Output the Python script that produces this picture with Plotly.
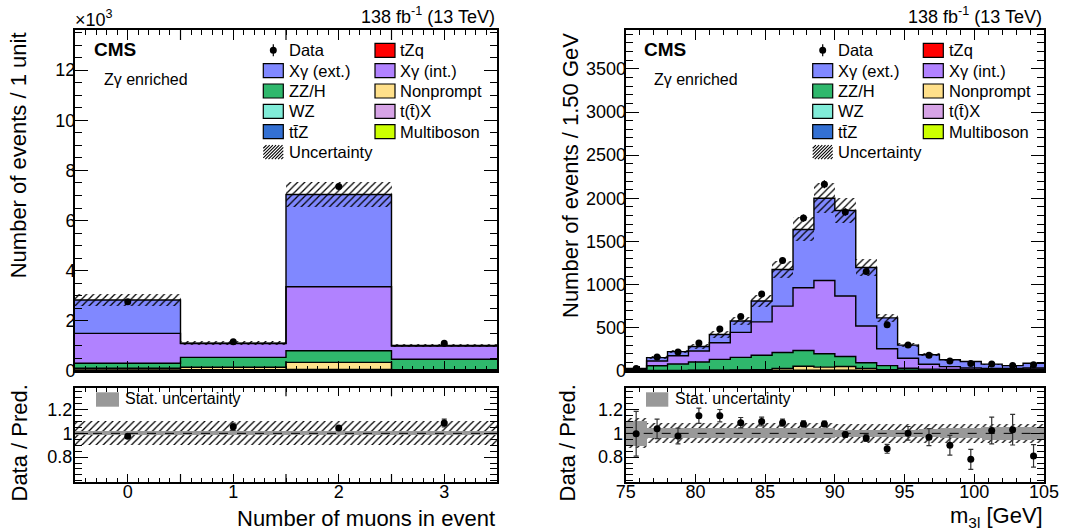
import numpy as np
import plotly.graph_objects as go

W, H = 1084, 530
FONT = "Liberation Sans, Arial, Helvetica, sans-serif"

# ---------------- Left: number of muons in event ----------------
mu_centers = [0, 1, 2, 3]
mu_tick_labels = ["0", "1", "2", "3"]
mu_xg_ext = [1330, 15, 3680, 20]
mu_xg_int = [1190, 550, 2550, 530]
mu_zz_h = [200, 395, 465, 420]
mu_nonprompt = [70, 100, 285, 20]
mu_wz = [25, 30, 35, 18]
mu_ttx = [8, 10, 12, 6]
mu_ttz = [4, 5, 6, 3]
mu_tzq = [1, 1, 2, 1]
mu_multiboson = [2, 3, 5, 2]
mu_data = [2760, 1170, 7360, 1110]
mu_unc_rel = [0.085, 0.07, 0.072, 0.07]
mu_ratio_unc = [0.10, 0.10, 0.10, 0.10]
mu_ratio_stat = [0.02, 0.02, 0.02, 0.02]

# ---------------- Right: m3l ----------------
m3l_edges = np.linspace(75, 105, 21)
m3l_xg_ext = [10, 39, 48, 52, 95, 131, 243, 423, 676, 954, 992, 679, 357, 153, 110, 80, 75, 50, 34, 55]
m3l_xg_int = [6, 55, 96, 127, 193, 290, 387, 537, 726, 848, 700, 425, 196, 116, 56, 32, 20, 15, 11, 15]
m3l_zz_h = [8, 55, 74, 95, 125, 146, 168, 185, 183, 155, 116, 66, 46, 21, 13, 8, 7, 6, 5, 4]
m3l_nonprompt = [2, 3, 3, 4, 5, 6, 8, 22, 46, 36, 44, 24, 11, 6, 6, 7, 5, 6, 9, 13]
m3l_wz = [1, 2, 2, 3, 3, 3, 3, 4, 5, 5, 4, 3, 3, 2, 2, 2, 2, 2, 2, 2]
m3l_ttx = [0.5, 0.5, 1, 1, 1, 1, 1, 2, 2, 2, 2, 1, 1, 1, 0.5, 0.5, 0.5, 0.5, 0.5, 0.5]
m3l_ttz = [0.3, 0.3, 0.5, 0.5, 0.5, 1, 1, 1, 1, 1, 1, 1, 0.5, 0.5, 0.3, 0.3, 0.3, 0.3, 0.3, 0.3]
m3l_tzq = [0.1, 0.1, 0.2, 0.2, 0.2, 0.3, 0.3, 0.4, 0.4, 0.4, 0.4, 0.3, 0.2, 0.2, 0.1, 0.1, 0.1, 0.1, 0.1, 0.1]
m3l_multiboson = [0.2, 0.2, 0.3, 0.3, 0.3, 0.4, 0.4, 0.5, 0.5, 0.5, 0.5, 0.4, 0.3, 0.3, 0.2, 0.2, 0.2, 0.2, 0.2, 0.2]
m3l_data = [28, 161, 220, 325, 486, 631, 893, 1281, 1771, 2162, 1841, 1152, 535, 300, 182, 117, 86, 82, 64, 73]
m3l_unc_rel = [0.13] + [0.085] * 9 + [0.08] * 10
m3l_ratio_unc = [0.127] + [0.085] * 9 + [0.08] * 10
m3l_ratio_stat = [0.105] + [0.042] * 9 + [0.03] * 4 + [0.035, 0.045, 0.045, 0.055, 0.055, 0.055]

COLORS = {
    "tzq": "#ff0000", "ttz": "#3370d3", "ttx": "#d6a3e6", "multiboson": "#ccff00",
    "wz": "#80ecd8", "nonprompt": "#ffe08a", "zz_h": "#2fb86c",
    "xg_int": "#b182ff", "xg_ext": "#8088ff",
}

fig = go.Figure()


def px_x(p):
    return p / W


def px_y(p):
    return 1 - p / H


HATCH = dict(color="rgba(0,0,0,0)", line=dict(width=0),
             pattern=dict(shape="/", fgcolor="black", bgcolor="rgba(0,0,0,0)",
                          size=5, solidity=0.25, fillmode="replace"))


def add_panel(xa, ya, xr, yr, centers, width, comps, data, unc_rel, r_unc, r_stat):
    centers = np.asarray(centers, float)
    edges = np.append(centers - width / 2, centers[-1] + width / 2)
    base = np.zeros(len(centers))
    tops = []
    for key, vals in comps:
        vals = np.asarray(vals, float)
        fig.add_trace(go.Bar(x=centers, y=vals, base=base, width=width, xaxis=xa, yaxis=ya,
                             marker=dict(color=COLORS[key], line=dict(width=0)), showlegend=False))
        base = base + vals
        tops.append(base.copy())
    total = base
    for t in tops:
        fig.add_trace(go.Scatter(x=edges, y=np.append(t, t[-1]), mode="lines", line_shape="hv",
                                 line=dict(color="black", width=1.4), xaxis=xa, yaxis=ya,
                                 showlegend=False, hoverinfo="skip"))
    unc = total * np.asarray(unc_rel)
    fig.add_trace(go.Bar(x=centers, y=2 * unc, base=total - unc, width=width, xaxis=xa, yaxis=ya,
                         marker=HATCH, showlegend=False))
    data = np.asarray(data, float)
    fig.add_trace(go.Scatter(x=centers, y=data, mode="markers", xaxis=xa, yaxis=ya,
                             marker=dict(color="black", size=7),
                             error_y=dict(type="data", array=np.sqrt(data), color="black",
                                          thickness=1.2, width=0),
                             showlegend=False))
    # ratio panel
    r_unc = np.asarray(r_unc)
    r_stat = np.asarray(r_stat)
    fig.add_trace(go.Bar(x=centers, y=2 * r_unc, base=1 - r_unc, width=width, xaxis=xr, yaxis=yr,
                         marker=HATCH, showlegend=False))
    fig.add_trace(go.Bar(x=centers, y=2 * r_stat, base=1 - r_stat, width=width, xaxis=xr, yaxis=yr,
                         marker=dict(color="#999999", line=dict(width=0)), showlegend=False))
    ratio = data / total
    fig.add_trace(go.Scatter(x=centers, y=ratio, mode="markers", xaxis=xr, yaxis=yr,
                             marker=dict(color="black", size=7),
                             error_y=dict(type="data", array=np.sqrt(data) / total, color="#333333",
                                          thickness=1.2, width=2.5),
                             showlegend=False))


def comps_of(prefix):
    g = globals()
    keys = ["tzq", "ttz", "ttx", "multiboson", "wz", "nonprompt", "zz_h", "xg_int", "xg_ext"]
    return [(k, g[prefix + k]) for k in keys]


add_panel("x", "y", "x2", "y2", mu_centers, 1.0, comps_of("mu_"), mu_data, mu_unc_rel,
          mu_ratio_unc, mu_ratio_stat)
m3l_centers = (m3l_edges[:-1] + m3l_edges[1:]) / 2
add_panel("x3", "y3", "x4", "y4", m3l_centers, 1.5, comps_of("m3l_"), m3l_data, m3l_unc_rel,
          m3l_ratio_unc, m3l_ratio_stat)

TICKFONT = dict(family=FONT, size=18, color="black")


def axis(domain, rng, anchor, ticklen, minorlen, showlabels, standoff, **kw):
    d = dict(domain=domain, range=rng, anchor=anchor, showline=True, linecolor="black", linewidth=2,
             mirror="allticks", ticks="inside", ticklen=ticklen, tickwidth=1.2, tickcolor="black",
             showgrid=False, zeroline=False, showticklabels=showlabels, tickfont=TICKFONT,
             automargin=False, fixedrange=True, ticklabelstandoff=standoff,
             minor=dict(ticks="inside", ticklen=minorlen, tickwidth=1, tickcolor="black", showgrid=False))
    d.update(kw)
    return d


dxl = [px_x(75), px_x(497)]
dxr = [px_x(625.7), px_x(1044)]
dyt = [px_y(371), px_y(30)]
dyr = [px_y(482), px_y(388.3)]

fig.update_layout(
    template="none",
    width=W, height=H, margin=dict(l=0, r=0, t=0, b=0, pad=0, autoexpand=False),
    paper_bgcolor="white", plot_bgcolor="white", barmode="overlay", bargap=0,
    showlegend=False, font=dict(family=FONT, color="black"),
    xaxis=axis(dxl, [-0.5, 3.5], "y", 10, 5, False, 0, tickmode="array", tickvals=mu_centers,
               ticktext=mu_tick_labels, minor_dtick=0.1, minor_tick0=0),
    yaxis=axis(dyt, [0, 13600], "x", 13, 7, True, -6, tickmode="array",
               tickvals=[0, 2000, 4000, 6000, 8000, 10000, 12000],
               ticktext=["0", "2", "4", "6", "8", "10", "12"], minor_dtick=500, minor_tick0=0),
    xaxis2=axis(dxl, [-0.5, 3.5], "y2", 8, 4, True, -8, tickmode="array", tickvals=mu_centers,
                ticktext=mu_tick_labels, minor_dtick=0.1, minor_tick0=0),
    yaxis2=axis(dyr, [0.59, 1.38], "x2", 13, 7, True, -3, tickmode="array", tickvals=[0.8, 1.0, 1.2],
                ticktext=["0.8", "1", "1.2"], minor_dtick=0.05, minor_tick0=0),
    xaxis3=axis(dxr, [75, 105], "y3", 10, 5, False, 0, dtick=5, tick0=75, minor_dtick=1),
    yaxis3=axis(dyt, [0, 3950], "x3", 13, 7, True, -6, dtick=500, tick0=0, minor_dtick=100),
    xaxis4=axis(dxr, [75, 105], "y4", 8, 4, True, -8, dtick=5, tick0=75, minor_dtick=1),
    yaxis4=axis(dyr, [0.59, 1.38], "x4", 13, 7, True, -3, tickmode="array", tickvals=[0.8, 1.0, 1.2],
                ticktext=["0.8", "1", "1.2"], minor_dtick=0.05, minor_tick0=0),
)

shapes = []
annots = []

# long ticks at the bin boundaries (half-integers) of the muon-count axis
for xr, yr, ln, h in [("x", "y", 10, 341), ("x2", "y2", 8, 93.7)]:
    f = ln / h
    for xv in [0.5, 1.5, 2.5]:
        for y0, y1 in [(0, f), (1 - f, 1)]:
            shapes.append(dict(type="line", xref=xr, yref=yr + " domain", x0=xv, x1=xv, y0=y0, y1=y1,
                               line=dict(color="black", width=1.2)))


def text(x, y, s, size=16, xanchor="left", yanchor="middle", angle=0, bold=False):
    if bold:
        s = "<b>" + s + "</b>"
    annots.append(dict(x=px_x(x), y=px_y(y), xref="paper", yref="paper", text=s, showarrow=False,
                       xanchor=xanchor, yanchor=yanchor, textangle=angle,
                       font=dict(family=FONT, size=size, color="black")))


def rect(x0, y0, x1, y1, fill, lw=1.2):
    shapes.append(dict(type="rect", xref="paper", yref="paper", x0=px_x(x0), x1=px_x(x1),
                       y0=px_y(y1), y1=px_y(y0), fillcolor=fill,
                       line=dict(color="black" if lw > 0 else fill, width=lw)))


def hatch_swatch(x0, y0, x1, y1, step=3.2):
    segs = []
    h = y1 - y0
    c = -h
    while c < (x1 - x0):
        ax, ay = x0 + c, y1
        bx, by = x0 + c + h, y0
        if ax < x0:
            ay = y1 - (x0 - ax)
            ax = x0
        if bx > x1:
            by = y0 + (bx - x1)
            bx = x1
        if bx > ax:
            segs.append("M%.5f,%.5f L%.5f,%.5f" % (px_x(ax), px_y(ay), px_x(bx), px_y(by)))
        c += step
    shapes.append(dict(type="path", xref="paper", yref="paper", path=" ".join(segs),
                       line=dict(color="black", width=1.1)))


def legend(c1_sw, c1_tx, c2_sw, c2_tx, y0=50.3, dy=20.35):
    rows = [
        (None, "Data", "tzq", "tZq"),
        ("xg_ext", "Xγ (ext.)", "xg_int", "Xγ (int.)"),
        ("zz_h", "ZZ/H", "nonprompt", "Nonprompt"),
        ("wz", "WZ", "ttx", "t(t\u0304)X"),
        ("ttz", "tt\u0304Z", "multiboson", "Multiboson"),
    ]
    for i, (k1, t1, k2, t2) in enumerate(rows):
        yc = y0 + i * dy
        if k1 is None:
            mx = (c1_sw[0] + c1_sw[1]) / 2
            shapes.append(dict(type="line", xref="paper", yref="paper", x0=px_x(mx), x1=px_x(mx),
                               y0=px_y(yc - 6), y1=px_y(yc + 6), line=dict(color="black", width=1.2)))
            shapes.append(dict(type="circle", xref="paper", yref="paper", x0=px_x(mx - 3.5),
                               x1=px_x(mx + 3.5), y0=px_y(yc + 3.5), y1=px_y(yc - 3.5),
                               fillcolor="black", line=dict(color="black", width=0)))
        else:
            rect(c1_sw[0], yc - 7, c1_sw[1], yc + 7, COLORS[k1])
        text(c1_tx, yc, t1, size=16.5)
        rect(c2_sw[0], yc - 7, c2_sw[1], yc + 7, COLORS[k2])
        text(c2_tx, yc, t2, size=16.5)
    yc = y0 + 5 * dy
    hatch_swatch(c1_sw[0], yc - 7, c1_sw[1], yc + 7)
    text(c1_tx, yc, "Uncertainty", size=16.5)


legend((263.3, 283.3), 286.5, (375, 395), 398.3)
legend((812.7, 832.7), 836, (923.3, 943.3), 946.7)

# CMS labels
for xc, xz in [(91.7, 101.7), (641.7, 651.7)]:
    text(xc, 49.5, "CMS", size=19, bold=True)
    text(xz, 80, "Zγ enriched", size=16)

# lumi
text(497, 16, "138 fb<sup>-1</sup> (13 TeV)", size=18, xanchor="right")
text(1044, 16, "138 fb<sup>-1</sup> (13 TeV)", size=18, xanchor="right")
text(73, 19, "×10<sup>3</sup>", size=18)

# axis titles
text(18.3, 30, "Number of events / 1 unit", size=22, xanchor="center", yanchor="top", angle=-90)
text(570, 31.5, "Number of events / 1.50 GeV", size=22, xanchor="center", yanchor="top", angle=-90)
text(19, 383, "Data / Pred.", size=22, xanchor="center", yanchor="top", angle=-90)
text(567, 383, "Data / Pred.", size=22, xanchor="center", yanchor="top", angle=-90)
text(497, 518, "Number of muons in event", size=22, xanchor="right")
text(1045, 517, "m<sub>3l</sub> [GeV]", size=22, xanchor="right")

# stat uncertainty legends
rect(96, 392.3, 119, 406.7, "#999999", lw=0)
text(123.3, 398.5, "Stat. uncertainty", size=16)
rect(646, 392.3, 668.3, 406.7, "#999999", lw=0)
text(673.3, 398.5, "Stat. uncertainty", size=16)

# dashed reference lines at 1
for xr, yr in [("x2", "y2"), ("x4", "y4")]:
    shapes.append(dict(type="line", xref=xr + " domain", yref=yr, x0=0, x1=1, y0=1, y1=1,
                       line=dict(color="black", width=1, dash="dash")))

fig.update_layout(shapes=shapes, annotations=annots)
fig.write_html("out.html", config=dict(displayModeBar=False))
